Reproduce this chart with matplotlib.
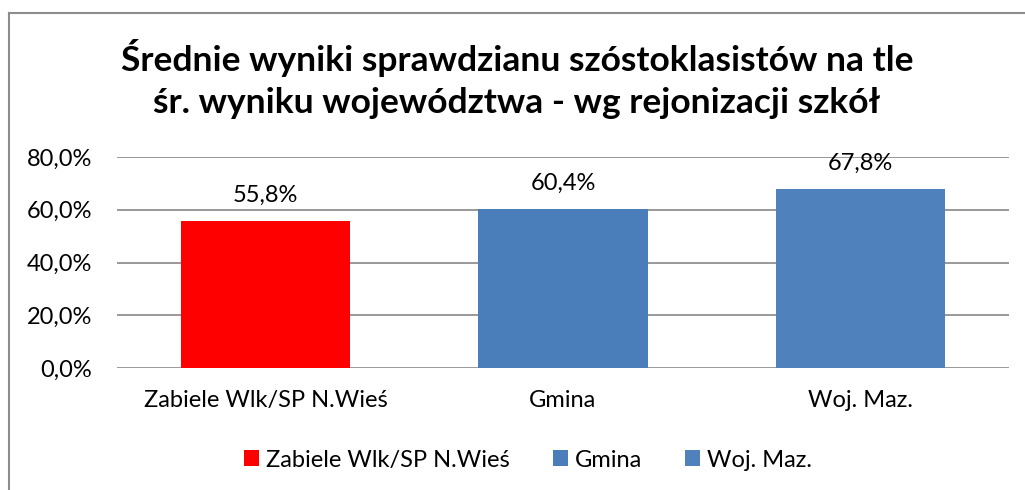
import matplotlib
matplotlib.use('Agg')

import matplotlib.pyplot as plt
import matplotlib.patches as patches
from matplotlib.lines import Line2D

categories = ['Zabiele Wlk/SP N.Wieś', 'Gmina', 'Woj. Maz.']
values = [55.8, 60.4, 67.8]
colors = ['#FF0000', '#4A7EBB', '#4F81BD']
yticks = [0, 20, 40, 60, 80]
title = 'Średnie wyniki sprawdzianu szóstoklasistów na tle\nśr. wyniku województwa - wg rejonizacji szkół'

plt.rcParams['font.family'] = ['Lato', 'DejaVu Sans']

W, H = 1025, 490
fig = plt.figure(figsize=(W / 100, H / 100), dpi=100)
ax = fig.add_axes([117 / W, 1 - 368 / H, (1009 - 117) / W, (368 - 157) / H])

x = range(len(categories))
bars = ax.bar(x, values, width=0.57, color=colors, zorder=3)

ax.set_xlim(-0.5, len(categories) - 0.5)
ax.set_ylim(0, 80)
ax.set_yticks(yticks)
ax.set_yticklabels([f'{v:.1f}%'.replace('.', ',') for v in yticks], fontsize=17)
ax.set_xticks(list(x))
ax.set_xticklabels(categories, fontsize=17)
ax.tick_params(axis='both', length=0, colors='black')
ax.tick_params(axis='x', pad=16)
ax.tick_params(axis='y', pad=18)
ax.grid(axis='y', color='#888888', linewidth=1.2, zorder=1)
for s in ax.spines.values():
    s.set_visible(False)

for i, v in enumerate(values):
    ax.annotate(f'{v:.1f}%'.replace('.', ','), (i, v), xytext=(0, 11),
                textcoords='offset points', ha='center', va='bottom', fontsize=17)

fig.text(517 / W, 1 - 79 / H, title, ha='center', va='center',
         fontsize=25.5, fontweight='bold', linespacing=1.4)

handles = [patches.Patch(facecolor=c, label=l) for c, l in zip(colors, categories)]
fig.legend(handles=handles, loc='center', bbox_to_anchor=(528 / W, 1 - 460 / H),
           ncol=3, frameon=False, fontsize=17, handlelength=0.65, handleheight=0.65,
           handletextpad=0.3, columnspacing=1.8)

# outer border (top and left only visible)
fig.add_artist(Line2D([9 / W, 1], [1 - 13 / H, 1 - 13 / H], color='#8c8c8c', lw=1.5))
fig.add_artist(Line2D([9 / W, 9 / W], [0, 1 - 13 / H], color='#8c8c8c', lw=1.5))

fig.savefig('out.png', dpi=100)
